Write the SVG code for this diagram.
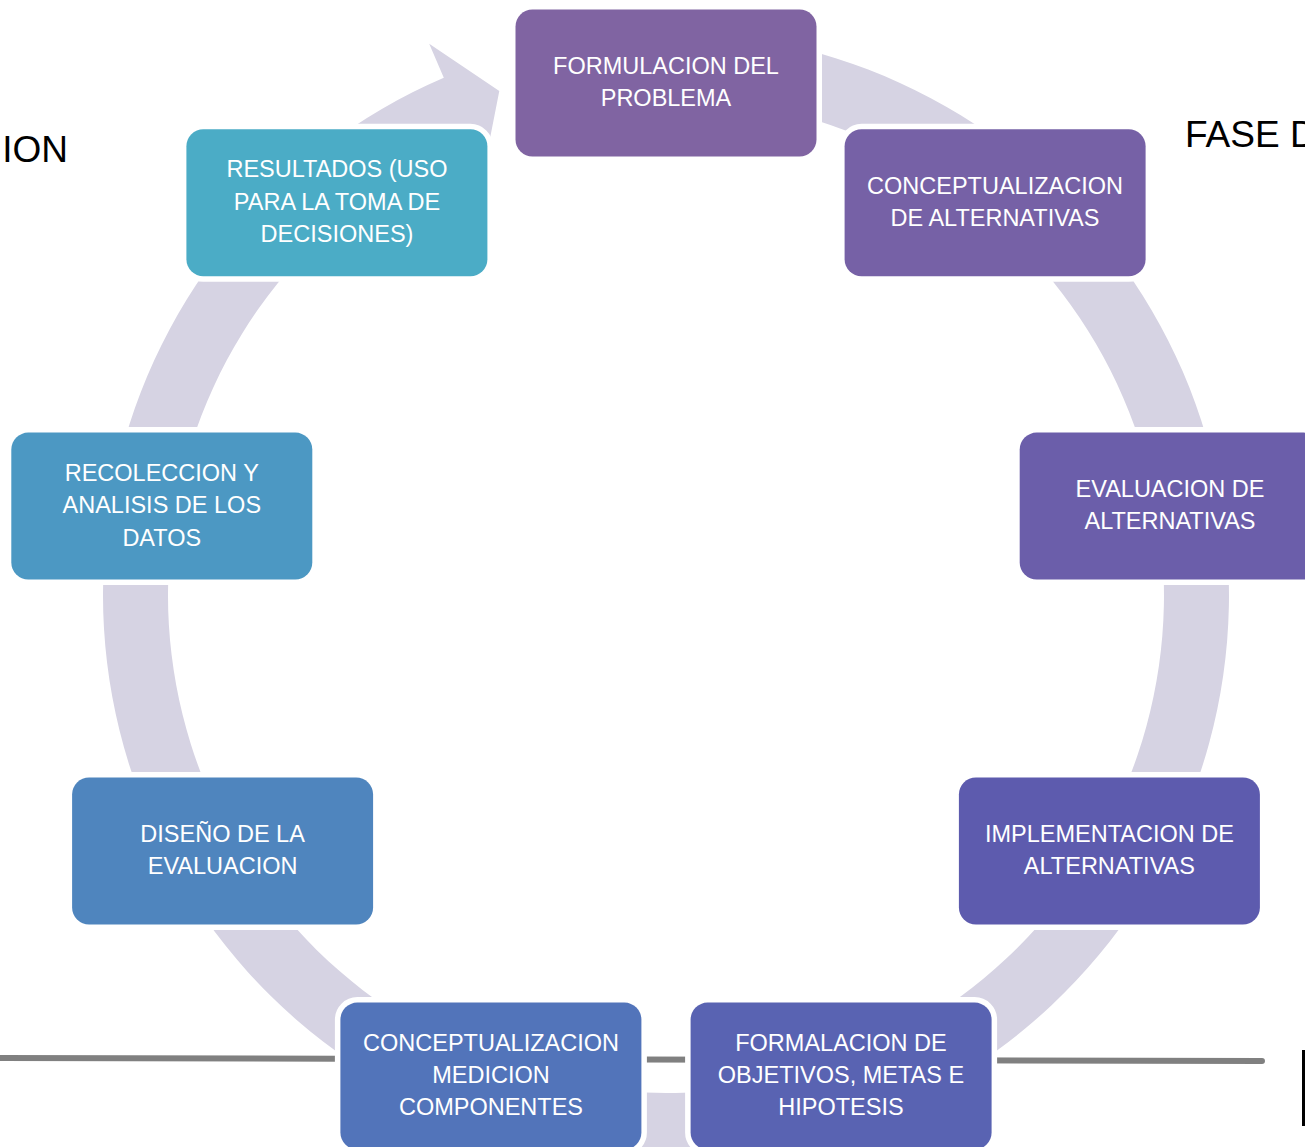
<svg xmlns="http://www.w3.org/2000/svg" width="1305" height="1147" viewBox="0 0 1305 1147">
<style>
.box{stroke:#FFFFFF;stroke-width:11;paint-order:stroke}
.lbl{font-family:"Liberation Sans",Arial,sans-serif;font-size:23.5px;fill:#FFFFFF;text-anchor:middle}
.big{font-family:"Liberation Sans",Arial,sans-serif;font-size:37px;fill:#000000}
</style>
<rect width="1305" height="1147" fill="#FFFFFF"/>
<text class="big" x="68" y="162" text-anchor="end">ION</text>
<text class="big" x="1185" y="147">FASE D</text>
<g id="connectors">
<path id="cycle-arrow" d="M 666,32 A 563,563 0 1 1 443.8,77.7 L 429.2,43.7 L 499.3,90.9 L 483.7,170.5 L 469.5,137.4 A 498,498 0 1 0 666,97 Z" fill="#D6D3E3"/>
<line x1="0" y1="1058" x2="1262" y2="1061" stroke="#808080" stroke-width="6" stroke-linecap="round"/>
</g>
<g id="n1"><rect class="box" x="515.5" y="9.5" width="301" height="147" rx="17" fill="#8064A2"/>
<text class="lbl" x="666" y="74">FORMULACION DEL</text><text class="lbl" x="666" y="106">PROBLEMA</text></g>
<g id="n2"><rect class="box" x="844.6" y="129.3" width="301" height="147" rx="17" fill="#7661A6"/>
<text class="lbl" x="995" y="194">CONCEPTUALIZACION</text><text class="lbl" x="995" y="226">DE ALTERNATIVAS</text></g>
<g id="n3"><rect class="box" x="1019.7" y="432.6" width="301" height="147" rx="17" fill="#6B5EAA"/>
<text class="lbl" x="1170" y="497">EVALUACION DE</text><text class="lbl" x="1170" y="529">ALTERNATIVAS</text></g>
<g id="n4"><rect class="box" x="958.9" y="777.5" width="301" height="147" rx="17" fill="#5D5BAE"/>
<text class="lbl" x="1109.4" y="842">IMPLEMENTACION DE</text><text class="lbl" x="1109.4" y="874">ALTERNATIVAS</text></g>
<g id="n5"><rect class="box" x="690.6" y="1002.6" width="301" height="147" rx="17" fill="#5963B2"/>
<text class="lbl" x="841" y="1050.5">FORMALACION DE</text><text class="lbl" x="841" y="1083">OBJETIVOS, METAS E</text><text class="lbl" x="841" y="1115">HIPOTESIS</text></g>
<g id="n6"><rect class="box" x="340.4" y="1002.6" width="301" height="147" rx="17" fill="#5274BA"/>
<text class="lbl" x="491" y="1050.5">CONCEPTUALIZACION</text><text class="lbl" x="491" y="1083">MEDICION</text><text class="lbl" x="491" y="1115">COMPONENTES</text></g>
<g id="n7"><rect class="box" x="72.1" y="777.5" width="301" height="147" rx="17" fill="#4F85BE"/>
<text class="lbl" x="222.6" y="842">DISEÑO DE LA</text><text class="lbl" x="222.6" y="874">EVALUACION</text></g>
<g id="n8"><rect class="box" x="11.3" y="432.6" width="301" height="147" rx="17" fill="#4C98C3"/>
<text class="lbl" x="161.8" y="481">RECOLECCION Y</text><text class="lbl" x="161.8" y="513">ANALISIS DE LOS</text><text class="lbl" x="161.8" y="545.5">DATOS</text></g>
<g id="n9"><rect class="box" x="186.4" y="129.3" width="301" height="147" rx="17" fill="#4BACC6"/>
<text class="lbl" x="337" y="177">RESULTADOS (USO</text><text class="lbl" x="337" y="209.5">PARA LA TOMA DE</text><text class="lbl" x="337" y="241.5">DECISIONES)</text></g>
<rect x="1302" y="1050" width="3" height="76" fill="#000000"/>
</svg>
